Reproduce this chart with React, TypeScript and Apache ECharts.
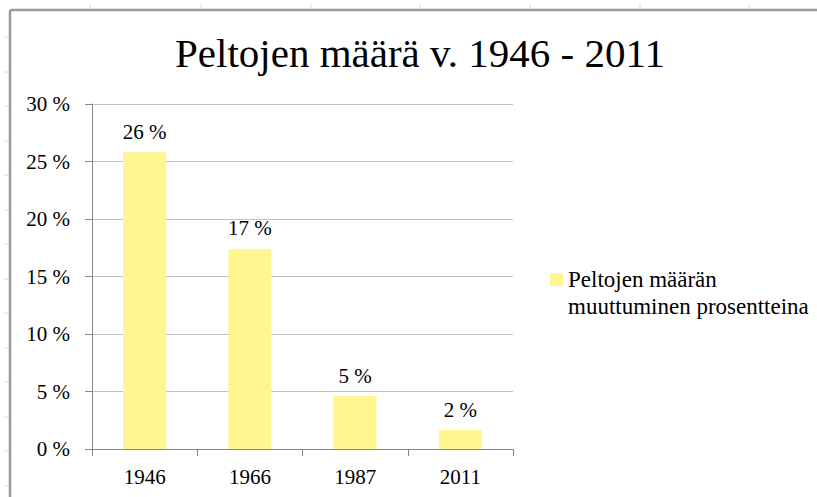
import React, { useEffect, useRef } from "react";
import * as echarts from "echarts";

const categories = ["1946", "1966", "1987", "2011"];
const values = [25.8, 17.4, 4.6, 1.65];
const seriesName = "Peltojen määrän\nmuuttuminen prosentteina";
const titleText = "Peltojen määrä v. 1946 - 2011";

const FONT = "'Liberation Serif', 'Times New Roman', serif";

export default function App() {
  const ref = useRef<HTMLDivElement>(null);
  useEffect(() => {
    if (!ref.current) return;
    const chart = echarts.init(ref.current, null, { renderer: "svg" });
    const gridColor = "#d4dbe6";
    const sheetMarks: any[] = [];
    [37, 72, 106, 141, 175, 210, 244, 279, 313, 348, 382, 417, 451, 486].forEach((y) =>
      sheetMarks.push({ type: "line", shape: { x1: 4, y1: y, x2: 9, y2: y }, style: { stroke: gridColor, lineWidth: 1 } })
    );
    [90, 201, 311, 420, 530, 640, 749].forEach((x) =>
      sheetMarks.push({ type: "line", shape: { x1: x, y1: 4, x2: x, y2: 9 }, style: { stroke: gridColor, lineWidth: 1 } })
    );
    chart.setOption({
      animation: false,
      backgroundColor: "#ffffff",
      title: {
        text: titleText,
        left: 415,
        textAlign: "center",
        top: 27,
        textStyle: { fontFamily: FONT, fontSize: 41, fontWeight: "normal", color: "#000" },
      },
      legend: {
        left: 550,
        top: 266,
        padding: 0,
        orient: "vertical",
        itemWidth: 13,
        itemHeight: 40,
        itemGap: 5,
        icon: "path://M0,0L13,0L13,13L0,13Z M0,40L0,40Z",
        textStyle: { fontFamily: FONT, fontSize: 23, color: "#000", lineHeight: 27 },
        data: [seriesName],
      },
      grid: { left: 92, right: 304, top: 104, bottom: 48, containLabel: false },
      xAxis: {
        type: "category",
        data: categories,
        axisLine: { lineStyle: { color: "#868686", width: 1 } },
        axisTick: { show: true, length: 7, lineStyle: { color: "#868686" } },
        axisLabel: { fontFamily: FONT, fontSize: 21, color: "#000", margin: 17 },
      },
      yAxis: {
        type: "value",
        min: 0,
        max: 30,
        interval: 5,
        axisLine: { show: true, lineStyle: { color: "#868686", width: 1 } },
        axisTick: { show: true, length: 7, lineStyle: { color: "#868686" } },
        axisLabel: {
          fontFamily: FONT,
          fontSize: 21,
          color: "#000",
          margin: 22,
          formatter: (v: number) => `${v} %`,
        },
        splitLine: { lineStyle: { color: "#c0c0c0", width: 1 } },
      },
      series: [
        {
          type: "bar",
          name: seriesName,
          data: values,
          barWidth: 43,
          itemStyle: { color: "#fff68f" },
          label: {
            show: true,
            position: "top",
            distance: 10,
            fontFamily: FONT,
            fontSize: 21,
            color: "#000",
            formatter: (p: any) => `${Math.round(p.value)} %`,
          },
        },
      ],
      graphic: [
        ...sheetMarks,
        { type: "line", shape: { x1: 10, y1: 10, x2: 817, y2: 10 }, style: { stroke: "#9a9a9a", lineWidth: 2.5 } },
        { type: "line", shape: { x1: 10, y1: 10, x2: 10, y2: 497 }, style: { stroke: "#9a9a9a", lineWidth: 2.5 } },
      ],
    });
    return () => chart.dispose();
  }, []);
  return <div ref={ref} style={{ position: "absolute", left: 0, top: 0, width: 817, height: 497 }} />;
}
